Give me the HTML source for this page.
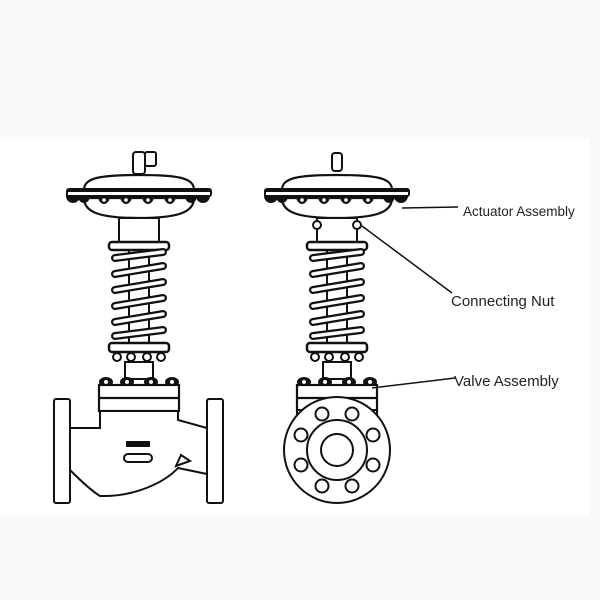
<!DOCTYPE html>
<html><head><style>html,body{margin:0;padding:0;background:#fff}svg{display:block}</style></head>
<body>
<svg width="600" height="600" viewBox="0 0 600 600" xmlns="http://www.w3.org/2000/svg">
<rect width="600" height="600" fill="#fff"/>
<rect x="0" y="0" width="600" height="140" fill="#fafafa"/>
<rect x="0" y="515" width="600" height="85" fill="#fafafa"/>
<defs>
<g id="act" fill="#fff" stroke="#111" stroke-width="2.2">
  <path d="M-55,190 C-55,178 -40,175 0,175 C40,175 55,178 55,190 Z"/>
  <path d="M-55,198 C-55,212 -40,218 0,218 C40,218 55,212 55,198 Z"/>
  <g fill="#111" stroke="none">
    <ellipse cx="-66" cy="196" rx="7" ry="7"/><ellipse cx="-55" cy="196" rx="6" ry="7"/><ellipse cx="-35" cy="196" rx="6" ry="8"/><ellipse cx="-13" cy="196" rx="6" ry="8"/>
    <ellipse cx="9" cy="196" rx="6" ry="8"/><ellipse cx="31" cy="196" rx="6" ry="8"/><ellipse cx="52" cy="196" rx="6" ry="7"/><ellipse cx="64" cy="196" rx="7" ry="7"/>
    <rect x="-73" y="188" width="146" height="9" rx="3"/>
  </g>
  <rect x="-71" y="192" width="142" height="3" fill="#fff" stroke="none"/>
  <g fill="#fff" stroke="none">
    <circle cx="-35" cy="200" r="1.8"/><circle cx="-13" cy="200" r="1.8"/><circle cx="9" cy="200" r="1.8"/><circle cx="31" cy="200" r="1.8"/>
  </g>
</g>
<g id="spring">
  <rect x="-20" y="218" width="40" height="26" fill="#fff" stroke="#111" stroke-width="2"/>
  <rect x="-10" y="244" width="20" height="100" fill="#fff" stroke="#111" stroke-width="2"/>
  <rect x="-30" y="242" width="60" height="8" rx="3" fill="#fff" stroke="#111" stroke-width="2.5"/>
  <g fill="none" stroke="#111" stroke-width="8" stroke-linecap="round">
    <path d="M-24,258 L24,252 M-24,274 L24,266 M-24,290 L24,282 M-24,306 L24,298 M-24,322 L24,314 M-24,336 L24,330"/>
  </g>
  <g fill="none" stroke="#fff" stroke-width="3.5" stroke-linecap="round">
    <path d="M-24,258 L24,252 M-24,274 L24,266 M-24,290 L24,282 M-24,306 L24,298 M-24,322 L24,314 M-24,336 L24,330"/>
  </g>
  <rect x="-30" y="343" width="60" height="9" rx="3" fill="#fff" stroke="#111" stroke-width="2.5"/>
  <g fill="#fff" stroke="#111" stroke-width="2">
    <circle cx="-22" cy="357" r="4"/><circle cx="-8" cy="357" r="4"/><circle cx="8" cy="357" r="4"/><circle cx="22" cy="357" r="4"/>
    <rect x="-14" y="362" width="28" height="17"/>
  </g>
  <g fill="#111">
    <ellipse cx="-33" cy="382" rx="7" ry="5"/><ellipse cx="-12" cy="382" rx="7" ry="5"/><ellipse cx="12" cy="382" rx="7" ry="5"/><ellipse cx="33" cy="382" rx="7" ry="5"/>
  </g>
  <g fill="#fff"><circle cx="-33" cy="382" r="2"/><circle cx="-12" cy="382" r="2"/><circle cx="12" cy="382" r="2"/><circle cx="33" cy="382" r="2"/></g>
  <rect x="-40" y="385" width="80" height="26" fill="#fff" stroke="#111" stroke-width="2.2"/>
  <line x1="-40" y1="398" x2="40" y2="398" stroke="#111" stroke-width="2.2"/>
</g>
</defs>

<!-- left valve -->
<g transform="translate(139,0)">
  <g fill="#fff" stroke="#111" stroke-width="2">
    <rect x="-6" y="152" width="12" height="22" rx="3"/>
    <rect x="6" y="152" width="11" height="14" rx="2"/>
  </g>
  <use href="#act"/>
  <use href="#spring"/>
</g>
<g fill="#fff" stroke="#111" stroke-width="2">
  <path d="M70,428 L100,428 L100,411 L178,411 L178,420 L207,428 L207,474 L178,468 C165,482 135,497 100,496 C90,490 78,478 70,470 Z"/>
  <rect x="54" y="399" width="16" height="104" rx="2"/>
  <rect x="207" y="399" width="16" height="104" rx="2"/>
  <rect x="124" y="454" width="28" height="8" rx="4"/>
  <path d="M176,466 L181,455 L190,461 Z"/>
</g>
<rect x="126" y="441" width="24" height="6" fill="#111"/>

<!-- right valve -->
<g transform="translate(337,0)">
  <g fill="#fff" stroke="#111" stroke-width="2">
    <rect x="-5" y="153" width="10" height="18" rx="3"/>
  </g>
  <use href="#act"/>
  <use href="#spring"/>
  <g fill="#fff" stroke="#111" stroke-width="2">
    <circle cx="-20" cy="225" r="4"/><circle cx="20" cy="225" r="4"/>
  </g>
</g>
<g fill="#fff" stroke="#111" stroke-width="2">
  <rect x="297" y="410" width="80" height="30"/>
  <circle cx="337" cy="450" r="53"/>
  <circle cx="337" cy="450" r="30"/>
  <circle cx="337" cy="450" r="16"/>
  <circle cx="352" cy="414" r="6.5"/><circle cx="322" cy="414" r="6.5"/>
  <circle cx="373" cy="435" r="6.5"/><circle cx="301" cy="435" r="6.5"/>
  <circle cx="373" cy="465" r="6.5"/><circle cx="301" cy="465" r="6.5"/>
  <circle cx="352" cy="486" r="6.5"/><circle cx="322" cy="486" r="6.5"/>
</g>

<!-- leader lines -->
<g stroke="#111" stroke-width="1.5" fill="none">
  <line x1="402" y1="208" x2="458" y2="207"/>
  <line x1="362" y1="226" x2="452" y2="293"/>
  <line x1="372" y1="388" x2="455" y2="378"/>
</g>
<g font-family="Liberation Sans, sans-serif" fill="#222">
  <text x="463" y="216" font-size="13.5">Actuator Assembly</text>
  <text x="451" y="306" font-size="15">Connecting Nut</text>
  <text x="454" y="386" font-size="15">Valve Assembly</text>
</g>
<rect x="590" y="140" width="10" height="375" fill="#f8f8f8"/>
</svg>
</body></html>
